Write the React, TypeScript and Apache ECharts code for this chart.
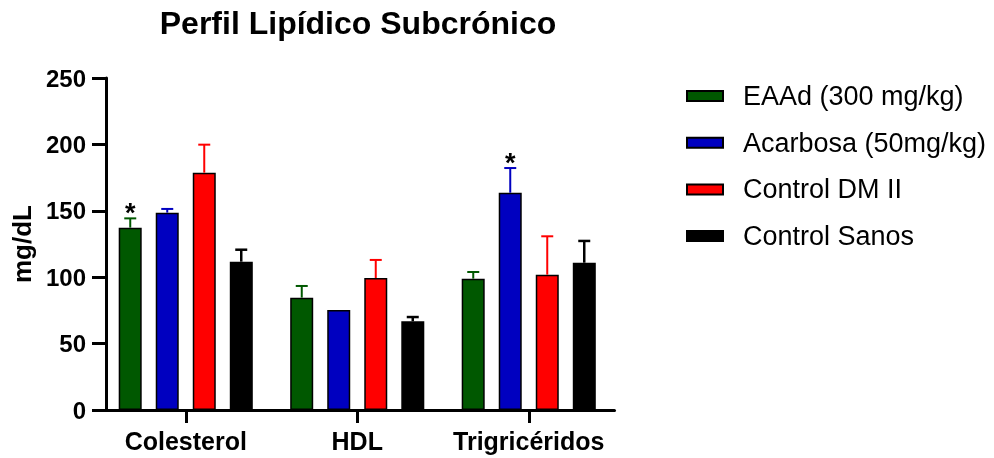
import React, { useEffect, useRef } from "react";
import * as echarts from "echarts";

const categories = ["Colesterol", "HDL", "Trigricéridos"];
const seriesNames = ["EAAd (300 mg/kg)", "Acarbosa (50mg/kg)", "Control DM II", "Control Sanos"];
const eaadValues = [137.3, 84.6, 98.9];
const eaadErrors = [7.0, 8.8, 5.0];
const acarbosaValues = [148.6, 75.3, 163.6];
const acarbosaErrors = [2.8, 0, 18.6];
const controlDMValues = [178.7, 99.4, 101.9];
const controlDMErrors = [21.1, 13.6, 28.9];
const sanosValues = [111.7, 66.8, 110.9];
const sanosErrors = [9.0, 3.2, 16.4];
const yTicks = { min: 0, max: 250, interval: 50 };
// [series index, category index] of significance marks
const significance = [
  [0, 0],
  [1, 2],
];

const colors = ["#005800", "#0000c0", "#ff0000", "#000000"];
const FONT = "'Liberation Sans', Arial, Helvetica, sans-serif";

export default function App() {
  const ref = useRef<HTMLDivElement>(null);
  useEffect(() => {
    if (!ref.current) return;
    const chart = echarts.init(ref.current, null, { renderer: "svg" });
    const values = [eaadValues, acarbosaValues, controlDMValues, sanosValues];
    const errors = [eaadErrors, acarbosaErrors, controlDMErrors, sanosErrors];
    const barWidth = 23;
    const step = 37;

    const bars = seriesNames.map((name, si) => ({
      name,
      type: "bar",
      data: values[si],
      barWidth,
      barGap: "61%",
      itemStyle: { color: colors[si], borderColor: "#000", borderWidth: 1.5 },
      z: 2,
    }));

    const errSeries = seriesNames.map((name, si) => ({
      name: name + " err",
      type: "custom",
      z: 3,
      data: values[si].map((v, ci) => [ci, v, v + errors[si][ci], significance.some((s) => s[0] === si && s[1] === ci) ? 1 : 0]),
      renderItem: (params: any, api: any) => {
        const ci = api.value(0);
        const v = api.value(1);
        const top = api.value(2);
        const star = api.value(3);
        const base = api.coord([ci, v]);
        const tp = api.coord([ci, top]);
        const x = base[0] + (si - 1.5) * step;
        const children: any[] = [];
        if (top > v) {
          children.push({
            type: "line",
            shape: { x1: x, y1: base[1], x2: x, y2: tp[1] },
            style: { stroke: colors[si], lineWidth: si === 3 ? 2.5 : 2 },
          });
          children.push({
            type: "line",
            shape: { x1: x - 6, y1: tp[1], x2: x + 6, y2: tp[1] },
            style: { stroke: colors[si], lineWidth: si === 3 ? 2.5 : 2 },
          });
        }
        if (star) {
          children.push({
            type: "text",
            x,
            y: tp[1] - 5,
            style: {
              text: "*",
              fontFamily: FONT,
              fontSize: 27,
              fontWeight: "bold",
              fill: "#000",
              textAlign: "center",
              textVerticalAlign: "middle",
            },
          });
        }
        return { type: "group", children };
      },
    }));

    chart.setOption({
      animation: false,
      graphic: [
        {
          type: "text",
          x: 358,
          y: 23,
          style: {
            text: "Perfil Lipídico Subcrónico",
            fontFamily: FONT,
            fontSize: 32,
            fontWeight: "bold",
            fill: "#000",
            textAlign: "center",
            textVerticalAlign: "middle",
          },
        },
      ],
      legend: {
        data: seriesNames,
        orient: "vertical",
        left: 686,
        top: 81,
        padding: 0,
        itemWidth: 36,
        itemHeight: 10,
        itemGap: 16.7,
        icon: "rect",
        textStyle: {
          fontFamily: FONT,
          fontSize: 27,
          color: "#000",
          lineHeight: 30,
          padding: [0, 0, 0, 15],
        },
      },
      grid: { left: 100, width: 514.5, top: 78, bottom: 48, containLabel: false },
      xAxis: {
        type: "category",
        data: categories,
        axisLine: { lineStyle: { color: "#000", width: 3 } },
        axisTick: { show: true, alignWithLabel: true, interval: 0, length: 13, lineStyle: { color: "#000", width: 3 } },
        axisLabel: { interval: 0, fontFamily: FONT, fontSize: 25, fontWeight: "bold", color: "#000", margin: 18 },
      },
      yAxis: {
        type: "value",
        min: yTicks.min,
        max: yTicks.max,
        interval: yTicks.interval,
        offset: -6,
        name: "mg/dL",
        nameLocation: "middle",
        nameGap: 66,
        nameTextStyle: { fontFamily: FONT, fontSize: 26, fontWeight: "bold", color: "#000" },
        axisLine: { show: true, lineStyle: { color: "#000", width: 3 } },
        axisTick: { show: true, length: 14, lineStyle: { color: "#000", width: 3 } },
        axisLabel: { fontFamily: FONT, fontSize: 24, fontWeight: "bold", color: "#000", margin: 20 },
        splitLine: { show: false },
      },
      series: [...bars, ...errSeries],
    });
    return () => chart.dispose();
  }, []);
  return <div ref={ref} style={{ position: "fixed", left: 0, top: 0, width: 994, height: 458 }} />;
}
